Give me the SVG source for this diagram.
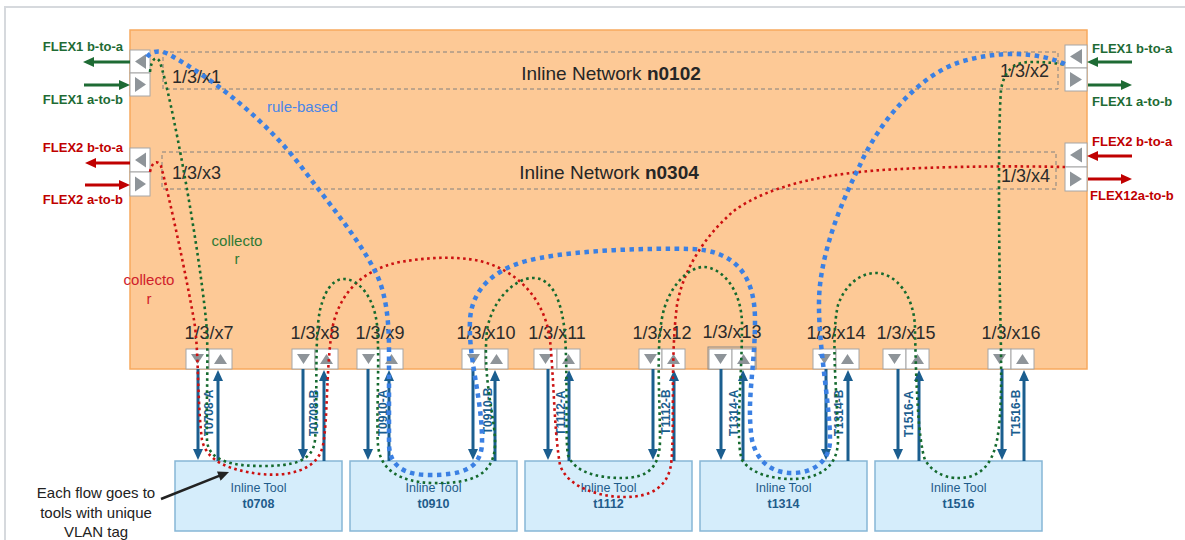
<svg xmlns="http://www.w3.org/2000/svg" width="1185" height="540" viewBox="0 0 1185 540">
<defs>
<style>
text{font-family:"Liberation Sans",Arial,sans-serif}
.frame{stroke:#D6D9DD;stroke-width:2;fill:none}
.net{font-size:19px;fill:#262626}
.pl{font-size:18px;fill:#2b2b2b}
.dash{fill:none;stroke:#808080;stroke-width:1;stroke-dasharray:4 3}
.pbox{fill:#fff;stroke:#A6A6A6;stroke-width:1}
.tri{fill:#8E9499}
.flg{font-size:13px;font-weight:bold;fill:#1E6B34}
.flr{font-size:13px;font-weight:bold;fill:#C00000}
.ag{stroke:#1E6B34;stroke-width:3;marker-end:url(#mg)}
.ar{stroke:#C00000;stroke-width:3;marker-end:url(#mr)}
.ab{stroke:#1B5E8F;stroke-width:3;marker-end:url(#mb)}
.vl{font-size:12px;font-weight:bold;fill:#1B5E8F}
.tool rect{fill:#D5EDFB;stroke:#86B6D6;stroke-width:1.5}
.tt{font-size:12.5px;fill:#1F5C8B}
.tn{font-size:12.5px;font-weight:bold;fill:#1F5C8B}
.note{font-size:15px;fill:#222}
.fg{fill:none;stroke:#156A2E;stroke-width:2.6;stroke-dasharray:2.6 3.4}
.fr{fill:none;stroke:#CC1111;stroke-width:2.6;stroke-dasharray:2.6 3.4}
.fb{fill:none;stroke:#3B80E3;stroke-width:4.5;stroke-dasharray:4.5 4.5}
</style>
<marker id="mg" viewBox="0 0 11 10" refX="1" refY="5" markerWidth="11" markerHeight="10" orient="auto" markerUnits="userSpaceOnUse"><path d="M0,0 L11,5 L0,10 z" fill="#1E6B34"/></marker>
<marker id="mr" viewBox="0 0 11 10" refX="1" refY="5" markerWidth="11" markerHeight="10" orient="auto" markerUnits="userSpaceOnUse"><path d="M0,0 L11,5 L0,10 z" fill="#C00000"/></marker>
<marker id="mb" viewBox="0 0 11 10" refX="1" refY="5" markerWidth="11" markerHeight="10" orient="auto" markerUnits="userSpaceOnUse"><path d="M0,0 L11,5 L0,10 z" fill="#1B5E8F"/></marker>
<marker id="mk" viewBox="0 0 11 10" refX="1" refY="5" markerWidth="12" markerHeight="10" orient="auto" markerUnits="userSpaceOnUse"><path d="M0,0 L11,5 L0,10 z" fill="#222"/></marker>
</defs>
<rect width="1185" height="540" fill="#fff"/>
<path class="frame" d="M5,540 L5,7 L1185,7"/>

<g id="network">
<rect x="130" y="30" width="957" height="339" fill="#FDC996" stroke="#F7A95E" stroke-width="1.5"/>
<rect class="dash" x="163" y="52" width="895" height="37"/>
<rect class="dash" x="162" y="152" width="894" height="37"/>
<text class="net" x="611" y="80" text-anchor="middle">Inline Network <tspan font-weight="bold">n0102</tspan></text>
<text class="net" x="609" y="179" text-anchor="middle">Inline Network <tspan font-weight="bold">n0304</tspan></text>
<text class="pl" x="172" y="83">1/3/x1</text>
<text class="pl" x="1000" y="77">1/3/x2</text>
<text class="pl" x="172" y="179">1/3/x3</text>
<text class="pl" x="1001" y="182">1/3/x4</text>
</g>

<g id="port-x1">
<rect class="pbox" x="130" y="50" width="20" height="23"/><path class="tri" d="M135,61.5 L146,54 L146,69 z"/>
<rect class="pbox" x="130" y="73" width="20" height="23"/><path class="tri" d="M135,77 L146,84.5 L135,92 z"/>
</g>
<g id="port-x3">
<rect class="pbox" x="130" y="148" width="20" height="24"/><path class="tri" d="M135,160 L146,152.5 L146,167.5 z"/>
<rect class="pbox" x="130" y="172" width="20" height="24"/><path class="tri" d="M135,176.5 L146,184 L135,191.5 z"/>
</g>
<g id="port-x2">
<rect class="pbox" x="1065" y="45" width="22" height="23"/><path class="tri" d="M1070,56.5 L1082,49 L1082,64 z"/>
<rect class="pbox" x="1065" y="68" width="22" height="23"/><path class="tri" d="M1070,72 L1082,79.5 L1070,87 z"/>
</g>
<g id="port-x4">
<rect class="pbox" x="1065" y="143" width="22" height="24"/><path class="tri" d="M1070,155 L1082,147.5 L1082,162.5 z"/>
<rect class="pbox" x="1065" y="167" width="22" height="24"/><path class="tri" d="M1070,171.5 L1082,179 L1070,186.5 z"/>
</g>

<g id="flex-labels">
<text class="flg" x="123" y="51" text-anchor="end">FLEX1 b-to-a</text>
<text class="flg" x="123" y="104" text-anchor="end">FLEX1 a-to-b</text>
<text class="flr" x="123" y="152" text-anchor="end">FLEX2 b-to-a</text>
<text class="flr" x="123" y="204" text-anchor="end">FLEX2 a-to-b</text>
<text class="flg" x="1092" y="53">FLEX1 b-to-a</text>
<text class="flg" x="1092" y="106">FLEX1 a-to-b</text>
<text class="flr" x="1092" y="146">FLEX2 b-to-a</text>
<text class="flr" x="1090" y="200">FLEX12a-to-b</text>
</g>

<g id="bottom-ports">
<g id="port-x7"><text class="pl" x="209" y="339" text-anchor="middle">1/3/x7</text><rect class="pbox" x="186" y="349" width="23" height="20"/><rect class="pbox" x="209" y="349" width="23" height="20"/><path class="tri" d="M191,354 L204,354 L197.5,364 z M214,364 L227,364 L220.5,354 z"/></g>
<g id="port-x8"><text class="pl" x="315" y="339" text-anchor="middle">1/3/x8</text><rect class="pbox" x="292" y="349" width="23" height="20"/><rect class="pbox" x="315" y="349" width="23" height="20"/><path class="tri" d="M297,354 L310,354 L303.5,364 z M320,364 L333,364 L326.5,354 z"/></g>
<g id="port-x9"><text class="pl" x="380" y="339" text-anchor="middle">1/3/x9</text><rect class="pbox" x="357" y="349" width="23" height="20"/><rect class="pbox" x="380" y="349" width="23" height="20"/><path class="tri" d="M362,354 L375,354 L368.5,364 z M385,364 L398,364 L391.5,354 z"/></g>
<g id="port-x10"><text class="pl" x="486" y="339" text-anchor="middle">1/3/x10</text><rect class="pbox" x="462" y="349" width="23" height="20"/><rect class="pbox" x="485" y="349" width="23" height="20"/><path class="tri" d="M467,354 L480,354 L473.5,364 z M490,364 L503,364 L496.5,354 z"/></g>
<g id="port-x11"><text class="pl" x="557" y="339" text-anchor="middle">1/3/x11</text><rect class="pbox" x="534" y="349" width="23" height="20" stroke="#8FA8C0"/><rect class="pbox" x="557" y="349" width="23" height="20" stroke="#8FA8C0"/><path class="tri" d="M539,354 L552,354 L545.5,364 z M562,364 L575,364 L568.5,354 z"/></g>
<g id="port-x12"><text class="pl" x="662" y="339" text-anchor="middle">1/3/x12</text><rect class="pbox" x="639" y="349" width="23" height="20"/><rect class="pbox" x="662" y="349" width="23" height="20"/><path class="tri" d="M644,354 L657,354 L650.5,364 z M667,364 L680,364 L673.5,354 z"/></g>
<g id="port-x13"><text class="pl" x="732" y="338" text-anchor="middle">1/3/x13</text><rect x="708" y="347" width="48" height="22" fill="none" stroke="#8A8A8A" stroke-width="1"/><rect class="pbox" x="709" y="349" width="23" height="20"/><rect class="pbox" x="732" y="349" width="23" height="20"/><path class="tri" d="M714,354 L727,354 L720.5,364 z M737,364 L750,364 L743.5,354 z"/></g>
<g id="port-x14"><text class="pl" x="836" y="339" text-anchor="middle">1/3/x14</text><rect class="pbox" x="813" y="349" width="23" height="20"/><rect class="pbox" x="836" y="349" width="23" height="20"/><path class="tri" d="M818,354 L831,354 L824.5,364 z M841,364 L854,364 L847.5,354 z"/></g>
<g id="port-x15"><text class="pl" x="906" y="339" text-anchor="middle">1/3/x15</text><rect class="pbox" x="883" y="349" width="23" height="20"/><rect class="pbox" x="906" y="349" width="23" height="20"/><path class="tri" d="M888,354 L901,354 L894.5,364 z M911,364 L924,364 L917.5,354 z"/></g>
<g id="port-x16"><text class="pl" x="1011" y="339" text-anchor="middle">1/3/x16</text><rect class="pbox" x="988" y="349" width="23" height="20"/><rect class="pbox" x="1011" y="349" width="23" height="20"/><path class="tri" d="M993,354 L1006,354 L999.5,364 z M1016,364 L1029,364 L1022.5,354 z"/></g>
</g>

<g id="tool-t0708" class="tool"><rect x="175" y="461" width="167" height="70"/><text class="tt" x="258.5" y="492" text-anchor="middle">Inline Tool</text><text class="tn" x="258.5" y="508" text-anchor="middle">t0708</text></g>
<g id="tool-t0910" class="tool"><rect x="350" y="461" width="167" height="70"/><text class="tt" x="433.5" y="492" text-anchor="middle">Inline Tool</text><text class="tn" x="433.5" y="508" text-anchor="middle">t0910</text></g>
<g id="tool-t1112" class="tool"><rect x="525" y="461" width="167" height="70"/><text class="tt" x="608.5" y="492" text-anchor="middle">Inline Tool</text><text class="tn" x="608.5" y="508" text-anchor="middle">t1112</text></g>
<g id="tool-t1314" class="tool"><rect x="700" y="461" width="167" height="70"/><text class="tt" x="783.5" y="492" text-anchor="middle">Inline Tool</text><text class="tn" x="783.5" y="508" text-anchor="middle">t1314</text></g>
<g id="tool-t1516" class="tool"><rect x="875" y="461" width="167" height="70"/><text class="tt" x="958.5" y="492" text-anchor="middle">Inline Tool</text><text class="tn" x="958.5" y="508" text-anchor="middle">t1516</text></g>

<g id="note">
<text class="note" x="96" y="498" text-anchor="middle">Each flow goes to</text>
<text class="note" x="96" y="518" text-anchor="middle">tools with unique</text>
<text class="note" x="96" y="537" text-anchor="middle">VLAN tag</text>
</g>

<g id="connectors">
<line class="ag" x1="130" y1="62" x2="93" y2="62"/>
<line class="ag" x1="84" y1="85" x2="120" y2="85"/>
<line class="ar" x1="130" y1="163" x2="95" y2="163"/>
<line class="ar" x1="85" y1="185" x2="120" y2="185"/>
<line class="ag" x1="1132" y1="62" x2="1097" y2="62"/>
<line class="ag" x1="1088" y1="85" x2="1122" y2="85"/>
<line class="ar" x1="1132" y1="156" x2="1097" y2="156"/>
<line class="ar" x1="1088" y1="179" x2="1122" y2="179"/>

<g id="tool-links">
<line class="ab" x1="198" y1="369" x2="198" y2="450"/><line class="ab" x1="218" y1="461" x2="218" y2="380"/>
<line class="ab" x1="303" y1="369" x2="303" y2="450"/><line class="ab" x1="324" y1="461" x2="324" y2="380"/>
<line class="ab" x1="368" y1="369" x2="368" y2="450"/><line class="ab" x1="389" y1="461" x2="389" y2="380"/>
<line class="ab" x1="473" y1="369" x2="473" y2="450"/><line class="ab" x1="495" y1="461" x2="495" y2="380"/>
<line class="ab" x1="548" y1="369" x2="548" y2="450"/><line class="ab" x1="569" y1="461" x2="569" y2="380"/>
<line class="ab" x1="653" y1="369" x2="653" y2="450"/><line class="ab" x1="674" y1="461" x2="674" y2="380"/>
<line class="ab" x1="721" y1="369" x2="721" y2="450"/><line class="ab" x1="743" y1="461" x2="743" y2="380"/>
<line class="ab" x1="826" y1="369" x2="826" y2="450"/><line class="ab" x1="848" y1="461" x2="848" y2="380"/>
<line class="ab" x1="898" y1="369" x2="898" y2="450"/><line class="ab" x1="919" y1="461" x2="919" y2="380"/>
<line class="ab" x1="1002" y1="369" x2="1002" y2="450"/><line class="ab" x1="1024" y1="461" x2="1024" y2="380"/>
<text class="vl" transform="translate(212.5,413) rotate(-90)" text-anchor="middle">T0708-A</text>
<text class="vl" transform="translate(317.5,413) rotate(-90)" text-anchor="middle">T0708-B</text>
<text class="vl" transform="translate(386.5,413) rotate(-90)" text-anchor="middle">T0910-A</text>
<text class="vl" transform="translate(491.5,411) rotate(-90)" text-anchor="middle">T0910-B</text>
<text class="vl" transform="translate(564.5,413) rotate(-90)" text-anchor="middle">T1112-A</text>
<text class="vl" transform="translate(669.5,412) rotate(-90)" text-anchor="middle">T1112-B</text>
<text class="vl" transform="translate(737.5,413) rotate(-90)" text-anchor="middle">T1314-A</text>
<text class="vl" transform="translate(842.5,413) rotate(-90)" text-anchor="middle">T1314-B</text>
<text class="vl" transform="translate(912.5,414) rotate(-90)" text-anchor="middle">T1516-A</text>
<text class="vl" transform="translate(1019.5,413) rotate(-90)" text-anchor="middle">T1516-B</text>
</g>

<path id="flow-red" class="fr" d="M150,172 C152,162 157,159 161,166 C170,200 185,270 194,320 C199,350 197,400 202,440 C207,462 230,470 260,474 C290,477 318,470 323,445 C328,420 326,360 333,325 C340,295 360,270 400,262 C430,257 465,255 490,264 C520,275 545,300 550,340 C554,380 554,430 560,465 C568,488 600,497 625,497 C650,497 667,488 671,465 C675,430 670,360 677,305 C683,270 705,235 735,210 C770,185 830,172 900,169 C960,166 1020,166 1065,167"/>
<path id="flow-green" class="fg" d="M150,72 C151,60 156,54 160,62 C172,100 198,240 206,320 C209,350 206,400 207,440 C208,462 235,466 262,466 C292,466 313,462 315,440 C318,400 314,340 320,310 C326,285 336,279 344,279 C358,279 374,296 377,325 C380,360 376,420 378,445 C380,470 400,482 432,483 C470,484 494,476 495,445 C496,420 482,380 487,330 C492,300 515,278 533,278 C552,278 562,300 565,335 C568,380 565,440 568,455 C575,475 605,478 622,478 C645,478 660,470 660,440 C660,400 656,350 662,318 C668,285 690,267 703,267 C722,267 742,290 742,325 C742,380 735,440 742,460 C752,475 775,479 792,479 C815,479 838,470 838,440 C838,400 830,340 838,305 C845,285 860,273 876,273 C895,273 915,295 915,330 C916,380 918,440 925,460 C935,476 950,478 958,478 C980,478 992,465 997,440 C1003,410 1001,350 1000,300 C999,240 998,130 1001,90 C1004,70 1015,62 1030,62 C1045,62 1058,63 1065,65"/>
<path id="flow-blue" class="fb" d="M147,57 C152,50 162,50 170,55 C215,80 265,120 300,165 C330,205 360,240 377,275 C386,295 389,320 389,350 L389,445 C390,470 410,475 430,475 C460,475 480,470 482,445 C483,400 468,360 470,320 C472,285 500,265 540,258 C580,250 650,248 690,249 C735,250 755,275 755,320 C755,370 746,400 752,440 C758,465 775,473 792,473 C815,473 830,460 830,440 C830,400 815,330 820,285 C825,240 845,195 860,165 C880,120 920,75 960,62 C1000,50 1040,52 1067,65"/>
<line x1="161" y1="499" x2="219.7" y2="475.7" stroke="#222" stroke-width="2.5" marker-end="url(#mk)"/>
</g>

<g id="flow-labels">
<text x="267" y="112" font-size="15" fill="#4A86E8">rule-based</text>
<text x="237" y="246" font-size="15" fill="#2F7A34" text-anchor="middle">collecto</text>
<text x="237" y="264" font-size="15" fill="#2F7A34" text-anchor="middle">r</text>
<text x="149" y="285" font-size="15" fill="#D0202A" text-anchor="middle">collecto</text>
<text x="149" y="304" font-size="15" fill="#D0202A" text-anchor="middle">r</text>
</g>
</svg>
